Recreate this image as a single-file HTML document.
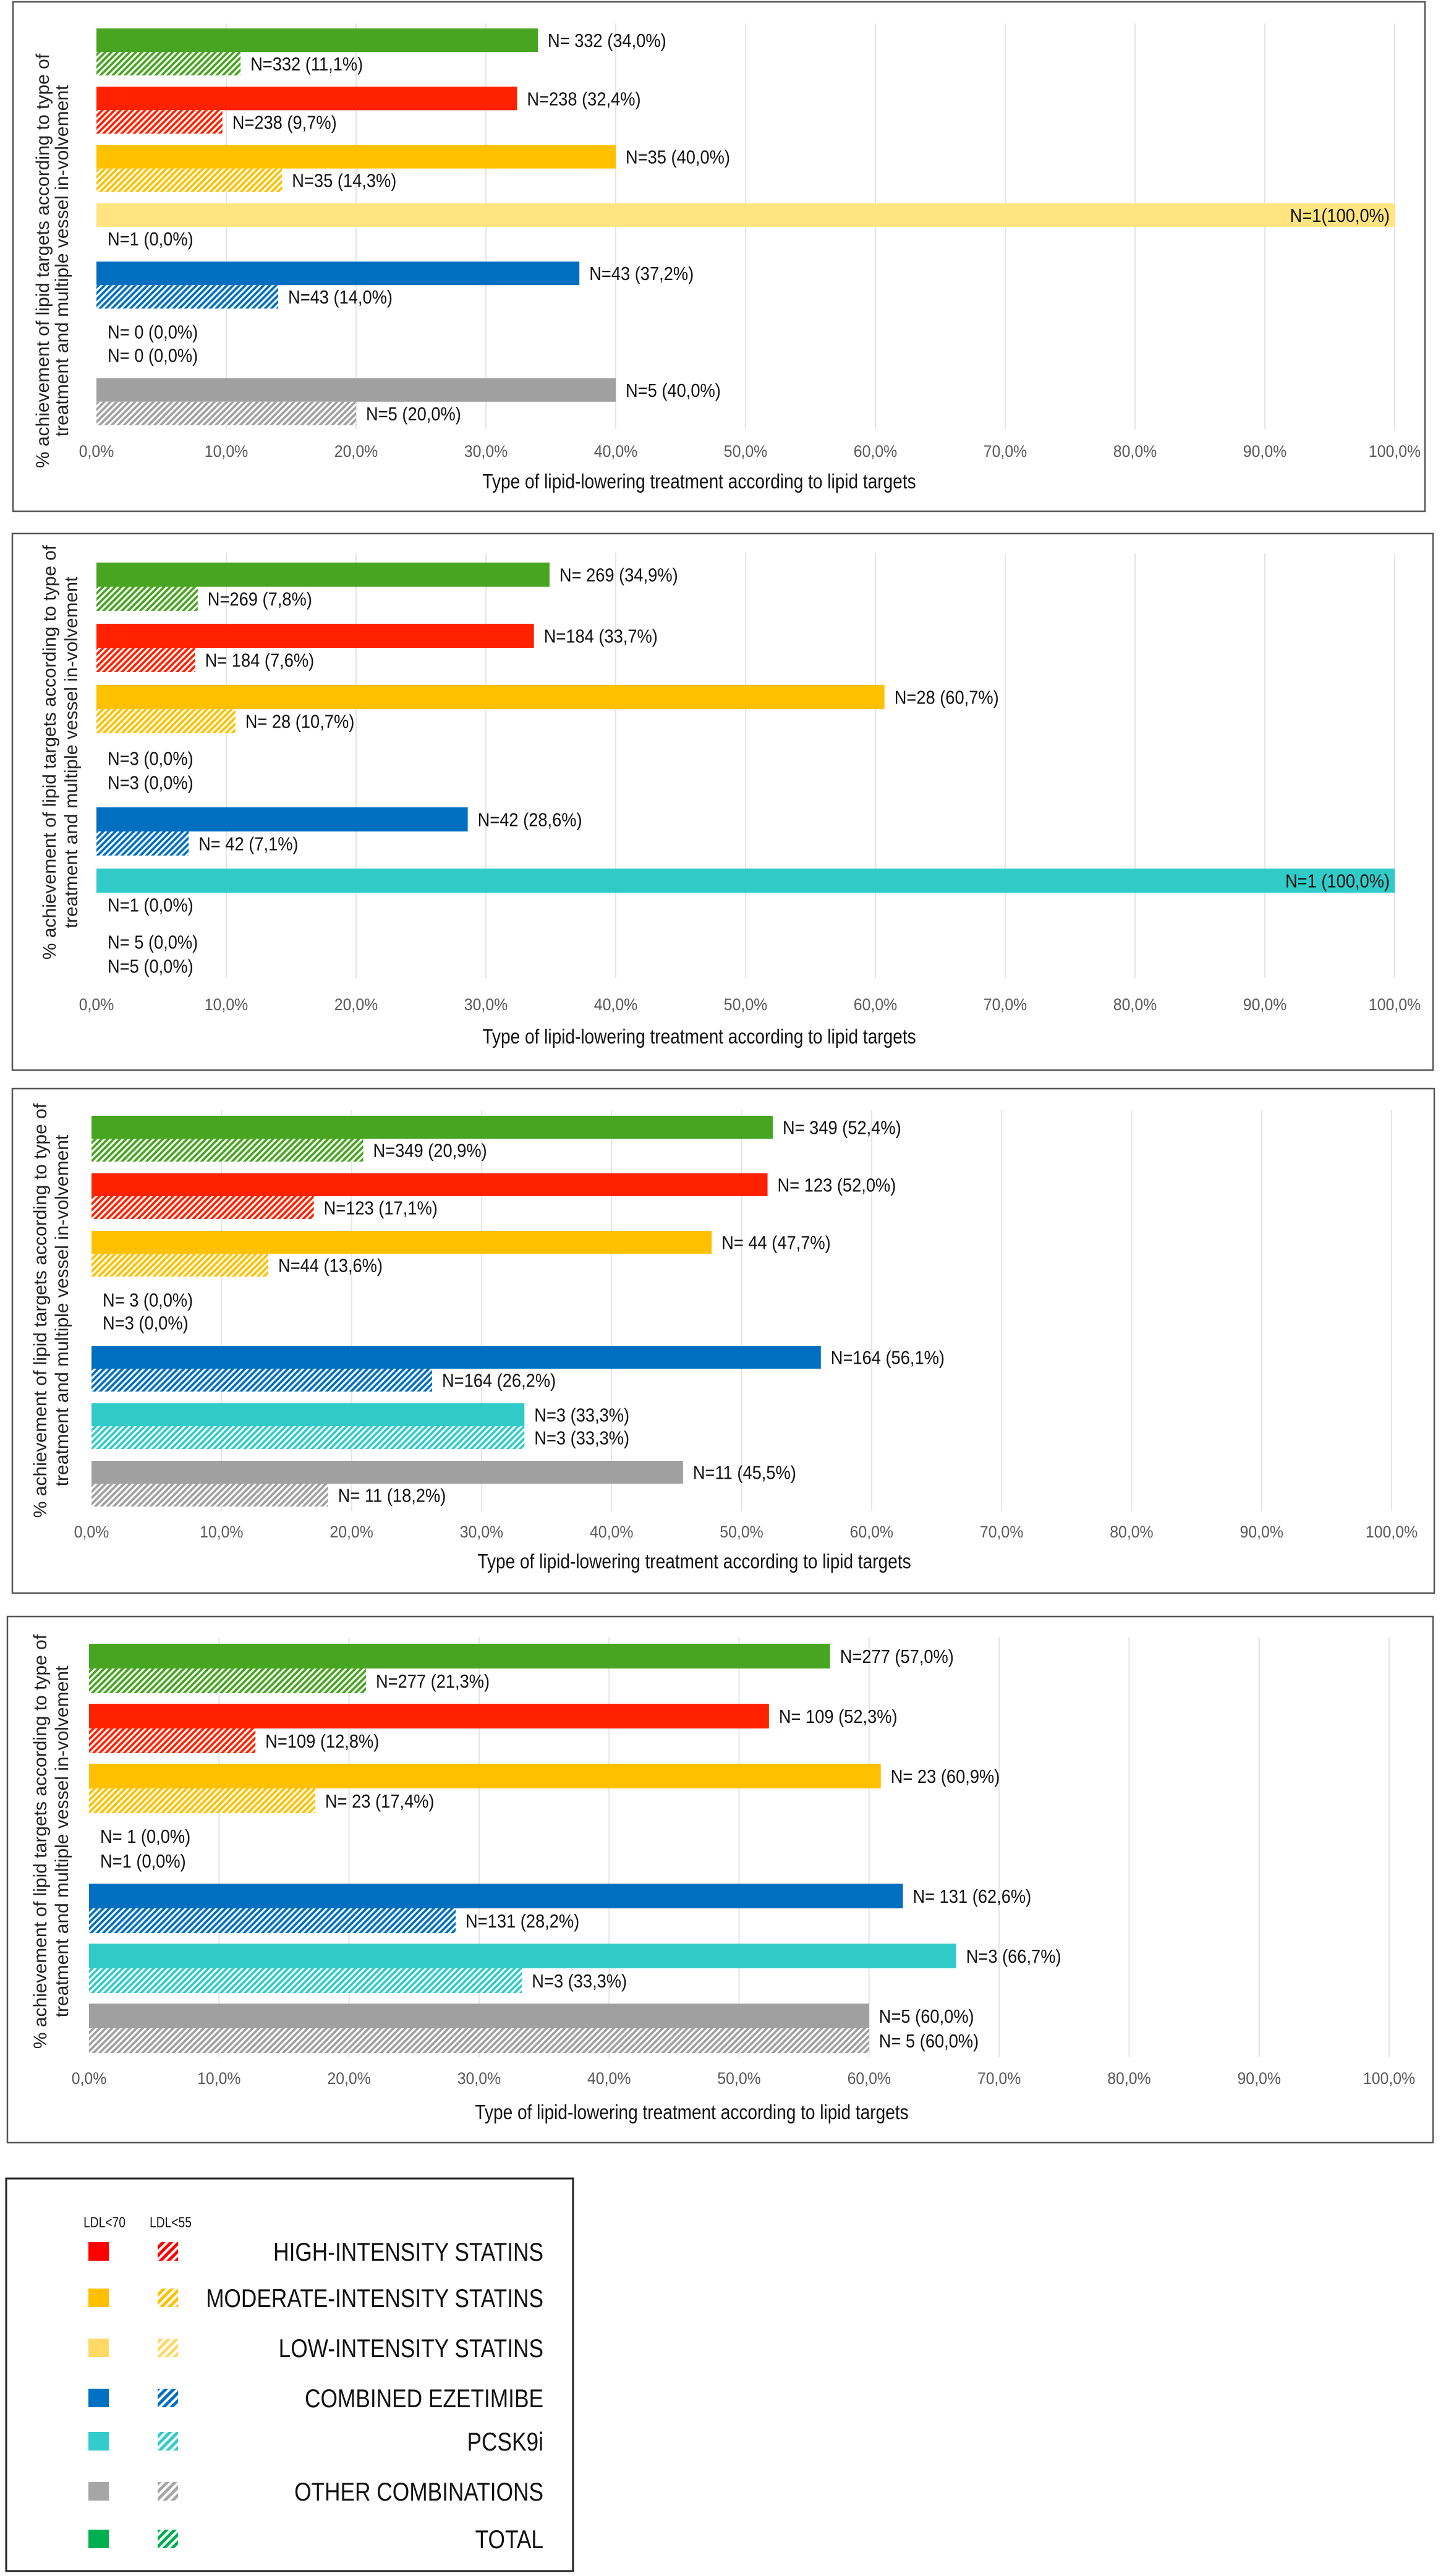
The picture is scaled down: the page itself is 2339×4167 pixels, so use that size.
<!DOCTYPE html>
<html><head><meta charset="utf-8">
<style>
html,body{margin:0;padding:0;background:#fff;}
svg{display:block;}
text{font-family:"Liberation Sans Narrow","Liberation Sans",Arial,sans-serif;}
</style></head>
<body>
<svg id="fig" xmlns="http://www.w3.org/2000/svg" width="2339" height="4167" viewBox="0 0 2339 4167">
<defs id="defs"></defs>
<g id="root"></g>
</svg>
<script>
// Category order (top to bottom in each panel)
const categories = ["TOTAL","HIGH-INTENSITY STATINS","MODERATE-INTENSITY STATINS","LOW-INTENSITY STATINS","COMBINED EZETIMIBE","PCSK9i","OTHER COMBINATIONS"];
const ticks = [0,10,20,30,40,50,60,70,80,90,100];
const tickLabels = ["0,0%","10,0%","20,0%","30,0%","40,0%","50,0%","60,0%","70,0%","80,0%","90,0%","100,0%"];

// Panel 1
const p1Solid = [34.0,32.4,40.0,100,37.2,0,40.0];
const p1Hatch = [11.1,9.7,14.3,0,14.0,0,20.0];
const p1SolidLbl = ["N= 332 (34,0%)","N=238 (32,4%)","N=35 (40,0%)","N=1(100,0%)","N=43 (37,2%)","N= 0 (0,0%)","N=5 (40,0%)"];
const p1HatchLbl = ["N=332 (11,1%)","N=238 (9,7%)","N=35 (14,3%)","N=1 (0,0%)","N=43 (14,0%)","N= 0 (0,0%)","N=5 (20,0%)"];
// Panel 2
const p2Solid = [34.9,33.7,60.7,0,28.6,100,0];
const p2Hatch = [7.8,7.6,10.7,0,7.1,0,0];
const p2SolidLbl = ["N= 269 (34,9%)","N=184 (33,7%)","N=28 (60,7%)","N=3 (0,0%)","N=42 (28,6%)","N=1 (100,0%)","N= 5 (0,0%)"];
const p2HatchLbl = ["N=269 (7,8%)","N= 184 (7,6%)","N= 28 (10,7%)","N=3 (0,0%)","N= 42 (7,1%)","N=1 (0,0%)","N=5 (0,0%)"];
// Panel 3
const p3Solid = [52.4,52.0,47.7,0,56.1,33.3,45.5];
const p3Hatch = [20.9,17.1,13.6,0,26.2,33.3,18.2];
const p3SolidLbl = ["N= 349 (52,4%)","N= 123 (52,0%)","N= 44 (47,7%)","N= 3 (0,0%)","N=164 (56,1%)","N=3 (33,3%)","N=11 (45,5%)"];
const p3HatchLbl = ["N=349 (20,9%)","N=123 (17,1%)","N=44 (13,6%)","N=3 (0,0%)","N=164 (26,2%)","N=3 (33,3%)","N= 11 (18,2%)"];
// Panel 4
const p4Solid = [57.0,52.3,60.9,0,62.6,66.7,60.0];
const p4Hatch = [21.3,12.8,17.4,0,28.2,33.3,60.0];
const p4SolidLbl = ["N=277 (57,0%)","N= 109 (52,3%)","N= 23 (60,9%)","N= 1 (0,0%)","N= 131 (62,6%)","N=3 (66,7%)","N=5 (60,0%)"];
const p4HatchLbl = ["N=277 (21,3%)","N=109 (12,8%)","N= 23 (17,4%)","N=1 (0,0%)","N=131 (28,2%)","N=3 (33,3%)","N= 5 (60,0%)"];

const legendLabels = ["HIGH-INTENSITY STATINS","MODERATE-INTENSITY STATINS","LOW-INTENSITY STATINS","COMBINED EZETIMIBE","PCSK9i","OTHER COMBINATIONS","TOTAL"];

const NS = "http://www.w3.org/2000/svg";
const barColors = ["#47a521","#ff2200","#ffc000","#ffe47f","#006fc0","#30cbc8","#a0a0a0"];
const legendColors = ["#ff0000","#ffc000","#ffd966","#0070c0","#33cccc","#a6a6a6","#00b050"];
const defs = document.getElementById('defs');
const root = document.getElementById('root');

function mk(tag, attrs, parent){
  const e = document.createElementNS(NS, tag);
  for (const k in attrs) e.setAttribute(k, attrs[k]);
  (parent||root).appendChild(e);
  return e;
}
function ctext(parent, x, y, sx, size, anchor, fill, str){
  const t = mk('text',{transform:'translate('+x+','+y+') scale('+sx+',1)',x:0,y:0,"font-size":size,"text-anchor":anchor,fill:fill},parent);
  t.textContent = str;
  return t;
}
function hatchPattern(id, color, size, frac){
  const p = mk('pattern',{id:id,patternUnits:'userSpaceOnUse',width:size,height:size,patternTransform:'rotate(45)'},defs);
  mk('rect',{x:0,y:0,width:size,height:size,fill:color},p);
  mk('rect',{x:0,y:0,width:size*frac,height:size,fill:'#ffffff'},p);
}
barColors.forEach((c,i)=>hatchPattern('hb'+i,c,7,0.45));
legendColors.forEach((c,i)=>hatchPattern('hl'+i,c,9,0.45));

const panels = [
  {solid:p1Solid,hatch:p1Hatch,sl:p1SolidLbl,hl:p1HatchLbl,box:[21,3,2284,824],x0:156,x100:2256,top:46,pitch:94.3,bh:38,gT:38,gB:694,tickY:730,titleY:779,titleX:1131,ytx1:69,ytx2:100,ytcy:422},
  {solid:p2Solid,hatch:p2Hatch,sl:p2SolidLbl,hl:p2HatchLbl,box:[20,863,2298,868],x0:156,x100:2256,top:910,pitch:99,bh:39,gT:895,gB:1582,tickY:1625,titleY:1677,titleX:1131,ytx1:80,ytx2:115,ytcy:1217},
  {solid:p3Solid,hatch:p3Hatch,sl:p3SolidLbl,hl:p3HatchLbl,box:[20,1761,2300,816],x0:148,x100:2251,top:1805,pitch:93,bh:37,gT:1796,gB:2444,tickY:2478,titleY:2526,titleX:1123,ytx1:65,ytx2:100,ytcy:2120},
  {solid:p4Solid,hatch:p4Hatch,sl:p4SolidLbl,hl:p4HatchLbl,box:[12,2615,2306,851],x0:144,x100:2247,top:2659,pitch:97,bh:40,gT:2648,gB:3328,tickY:3362,titleY:3417,titleX:1119,ytx1:65,ytx2:100,ytcy:2979}
];

panels.forEach((P,pi)=>{
  const g = mk('g',{});
  
  
  const xs = v => P.x0 + (P.x100-P.x0)*v/100;
  const frame = mk('rect',{x:P.box[0],y:P.box[1],width:P.box[2],height:P.box[3],fill:'#fff',stroke:'#555',"stroke-width":2.5},g);
  
  
  ticks.forEach((t,i)=>{
    if(i>0){
      const gl = mk('line',{x1:xs(t),x2:xs(t),y1:P.gT,y2:P.gB,stroke:'#e4e4e4',"stroke-width":2},g);
      
      
    }
    const tl = ctext(g, xs(t), P.tickY+9, 0.92, 27, 'middle', '#595959', tickLabels[i]);
    
    
  });
  categories.forEach((c,i)=>{
    const y = P.top + P.pitch*i;
    const vs = P.solid[i], vh = P.hatch[i];
    if(vs>0){
      const r = mk('rect',{x:P.x0,y:y,width:xs(vs)-P.x0,height:P.bh,fill:barColors[i]},g);
      
      
    }
    if(vh>0){
      const r = mk('rect',{x:P.x0,y:y+P.bh,width:xs(vh)-P.x0,height:P.bh,fill:'url(#hb'+i+')'},g);
      
      
    }
    let t1;
    if(vs>=100){
      t1 = ctext(g, xs(vs)-8, y+P.bh/2+11, 0.88, 31, 'end', '#111', P.sl[i]);
    } else {
      const lx = vs>0 ? xs(vs)+16 : P.x0+18;
      t1 = ctext(g, lx, y+P.bh/2+11, 0.88, 31, 'start', '#111', P.sl[i]);
    }
    
    
    const lx2 = vh>0 ? xs(vh)+16 : P.x0+18;
    const t2 = ctext(g, lx2, y+P.bh*1.5+11, 0.88, 31, 'start', '#111', P.hl[i]);
    
    
  });
  const xt = ctext(g, P.titleX, P.titleY+11, 0.85, 33, 'middle', '#111', 'Type of lipid-lowering treatment according to lipid targets');
  
  
  const yt = mk('text',{transform:'translate('+P.ytx1+','+P.ytcy+') rotate(-90)',"text-anchor":'middle',"font-size":30,fill:'#222'},g);
  
  
  const s1 = mk('tspan',{x:0,y:10},yt); s1.textContent='% achievement of lipid targets according to type of';
  const s2 = mk('tspan',{x:0,y:10+(P.ytx2-P.ytx1)},yt); s2.textContent='treatment and multiple vessel in-volvement';
});

// Legend
const lg = mk('g',{});


const lf = mk('rect',{x:10,y:3524,width:917,height:635,fill:'#fff',stroke:'#222',"stroke-width":3},lg);


const h1 = ctext(lg, 169, 3603, 0.8, 24, 'middle', '#111', 'LDL<70');


const h2 = ctext(lg, 276, 3603, 0.8, 24, 'middle', '#111', 'LDL<55');


const legendRowY = [3642,3717,3798,3879,3949,4030,4107];
legendLabels.forEach((l,i)=>{
  const cy = legendRowY[i];
  const s = mk('rect',{x:143,y:cy-15,width:33,height:30,fill:legendColors[i]},lg);
  
  
  const h = mk('rect',{x:255,y:cy-15,width:33,height:30,fill:'url(#hl'+i+')'},lg);
  
  
  const t = ctext(lg, 879, cy+15, 0.84, 42, 'end', '#111', l);
  
  
});
</script>
</body></html>
